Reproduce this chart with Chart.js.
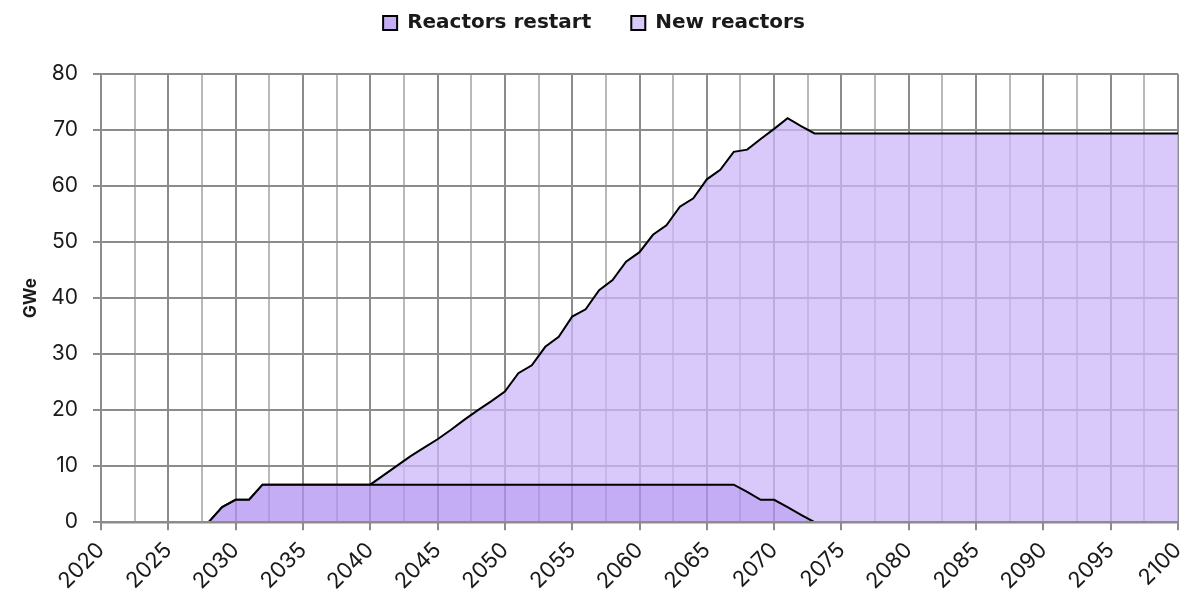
<!DOCTYPE html>
<html>
<head>
<meta charset="utf-8">
<script src="https://cdn.jsdelivr.net/npm/chart.js@4"></script>
<style>
    html, body { margin: 0; padding: 0; background: #fff; }
    #wrap { width: 1193px; height: 594px; }
</style>
</head>
<body>
<div id="wrap"><canvas id="nuclearChart"></canvas></div>
<script>
// Data (GWe per year)
const years = [
    2028, 2029, 2030, 2031, 2032, 2033, 2034, 2035, 2036, 2037,
    2038, 2039, 2040, 2041, 2042, 2043, 2044, 2045, 2046, 2047,
    2048, 2049, 2050, 2051, 2052, 2053, 2054, 2055, 2056, 2057,
    2058, 2059, 2060, 2061, 2062, 2063, 2064, 2065, 2066, 2067,
    2068, 2069, 2070, 2071, 2072, 2073, 2074, 2075, 2076, 2077,
    2078, 2079, 2080, 2081, 2082, 2083, 2084, 2085, 2086, 2087,
    2088, 2089, 2090, 2091, 2092, 2093, 2094, 2095, 2096, 2097,
    2098, 2099, 2100
];
const reactorsRestart = [
    0, 2.7, 4.0, 4.0, 6.7, 6.7, 6.7, 6.7, 6.7, 6.7,
    6.7, 6.7, 6.7, 6.7, 6.7, 6.7, 6.7, 6.7, 6.7, 6.7,
    6.7, 6.7, 6.7, 6.7, 6.7, 6.7, 6.7, 6.7, 6.7, 6.7,
    6.7, 6.7, 6.7, 6.7, 6.7, 6.7, 6.7, 6.7, 6.7, 6.7,
    5.4, 4.0, 4.0, 2.7, 1.3, 0, 0, 0, 0, 0,
    0, 0, 0, 0, 0, 0, 0, 0, 0, 0,
    0, 0, 0, 0, 0, 0, 0, 0, 0, 0,
    0, 0, 0
];
const newReactors = [
    0, 0, 0, 0, 0, 0, 0, 0, 0, 0,
    0, 0, 0, 1.7, 3.4, 5.1, 6.6, 8.1, 9.8, 11.6,
    13.3, 14.9, 16.6, 19.9, 21.3, 24.6, 26.4, 30.0, 31.3, 34.7,
    36.5, 39.8, 41.5, 44.6, 46.3, 49.6, 51.1, 54.5, 56.2, 59.4,
    61.1, 64.4, 66.2, 69.4, 69.4, 69.4, 69.4, 69.4, 69.4, 69.4,
    69.4, 69.4, 69.4, 69.4, 69.4, 69.4, 69.4, 69.4, 69.4, 69.4,
    69.4, 69.4, 69.4, 69.4, 69.4, 69.4, 69.4, 69.4, 69.4, 69.4,
    69.4, 69.4, 69.4
];

// Colours
const MAJOR_GRID = '#8c8c8c';
const MINOR_GRID = '#b9b9b9';
const TEXT_COLOR = '#1a1a1a';

const toPoints = values => values.map((v, i) => ({ x: years[i], y: v }));

// extra room between legend and plot
const legendMargin = {
    id: 'legendMargin',
    beforeInit(chart) {
        const fit = chart.legend.fit;
        chart.legend.fit = function () {
            fit.bind(chart.legend)();
            this.height += 31;
        };
    }
};

// redraw the x axis line over the series so the zero outline stays grey
const axisOnTop = {
    id: 'axisOnTop',
    afterDatasetsDraw(chart) {
        const { ctx, chartArea, scales } = chart;
        const y0 = scales.y.getPixelForValue(0);
        ctx.save();
        ctx.strokeStyle = MAJOR_GRID;
        ctx.lineWidth = 2.5;
        ctx.beginPath();
        ctx.moveTo(chartArea.left, y0);
        ctx.lineTo(chartArea.right, y0);
        ctx.stroke();
        ctx.restore();
    }
};

const ctx = document.getElementById('nuclearChart').getContext('2d');

new Chart(ctx, {
    type: 'line',
    data: {
        datasets: [
            {
                label: 'Reactors restart',
                data: toPoints(reactorsRestart),
                borderColor: '#000',
                backgroundColor: 'rgba(176, 146, 240, 0.75)',
                borderWidth: 2,
                pointRadius: 0,
                tension: 0,
                fill: 'origin'
            },
            {
                label: 'New reactors',
                data: toPoints(newReactors),
                borderColor: '#000',
                backgroundColor: 'rgba(204, 182, 248, 0.75)',
                borderWidth: 2,
                pointRadius: 0,
                tension: 0,
                fill: '-1'
            }
        ]
    },
    options: {
        responsive: true,
        maintainAspectRatio: false,
        animation: false,
        layout: { padding: { top: -27, right: 15, left: 10, bottom: -8 } },
        plugins: {
            legend: {
                position: 'top',
                labels: {
                    color: TEXT_COLOR,
                    boxWidth: 14,
                    boxHeight: 14,
                    padding: 40,
                    font: { family: 'DejaVu Sans', size: 20, weight: 'bold' }
                }
            },
            tooltip: { enabled: false }
        },
        scales: {
            x: {
                type: 'linear',
                min: 2020,
                max: 2100,
                afterFit: scale => {
                    scale.paddingLeft = 0;
                    scale.paddingRight = 0;
                },
                grid: {
                    lineWidth: 2,
                    tickLength: 8,
                    color: c => (c.tick && c.tick.value % 5 === 0) ? MAJOR_GRID : MINOR_GRID,
                    tickColor: c => (c.tick && c.tick.value % 5 === 0) ? MAJOR_GRID : 'rgba(0,0,0,0)'
                },
                border: { color: MAJOR_GRID, width: 2 },
                ticks: {
                    stepSize: 2.5,
                    autoSkip: false,
                    maxRotation: 45,
                    minRotation: 45,
                    color: TEXT_COLOR,
                    padding: 7,
                    font: { family: 'Inter', size: 22 },
                    callback: value => value % 5 === 0 ? String(value) : ''
                }
            },
            y: {
                stacked: true,
                min: 0,
                max: 80,
                afterFit: scale => { scale.width = 91; },
                grid: { color: MAJOR_GRID, lineWidth: 2, tickLength: 8 },
                border: { color: MAJOR_GRID, width: 2 },
                ticks: {
                    stepSize: 10,
                    color: TEXT_COLOR,
                    padding: 15,
                    font: { family: 'Inter', size: 21 }
                },
                title: {
                    display: true,
                    text: 'GWe',
                    color: TEXT_COLOR,
                    padding: { top: 11, bottom: 6 },
                    font: { family: 'Inter', size: 17, weight: 'bold' }
                }
            }
        }
    },
    plugins: [legendMargin, axisOnTop]
});
</script>
</body>
</html>
